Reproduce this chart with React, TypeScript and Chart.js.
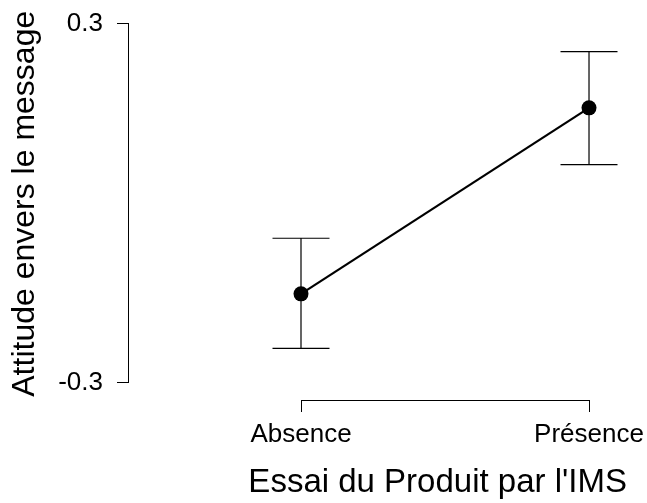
import React, { useEffect, useRef } from "react";
import { Chart, registerables } from "chart.js";

Chart.register(...registerables);

const categories = ["Absence", "Présence"];
const xPositions = [1, 2];
const means = [-0.152, 0.159];
const lowerBounds = [-0.243, 0.064];
const upperBounds = [-0.059, 0.253];
const yTickValues = [-0.3, 0.3];
const yTickLabels = ["-0.3", "0.3"];
const xTitle = "Essai du Produit par l'IMS";
const yTitle = "Attitude envers le message";

const FONT = "'Liberation Sans', Arial, Helvetica, sans-serif";

const errorBarPlugin = {
  id: "errorBarsAndAxes",
  beforeDatasetsDraw(chart: any) {
    const { ctx, scales } = chart;
    const x = scales.x;
    const y = scales.y;
    ctx.save();
    ctx.strokeStyle = "#000";
    ctx.lineWidth = 1.2;
    const half = 28.5;
    xPositions.forEach((xv, i) => {
      const px = x.getPixelForValue(xv);
      const lo = y.getPixelForValue(lowerBounds[i]);
      const hi = y.getPixelForValue(upperBounds[i]);
      ctx.beginPath();
      ctx.moveTo(px, lo);
      ctx.lineTo(px, hi);
      ctx.moveTo(px - half, lo);
      ctx.lineTo(px + half, lo);
      ctx.moveTo(px - half, hi);
      ctx.lineTo(px + half, hi);
      ctx.stroke();
    });
    ctx.lineWidth = 1;
    const ax = Math.round(chart.chartArea.left) - 0.5;
    const ay = Math.round(chart.chartArea.bottom) + 0.5;
    ctx.beginPath();
    ctx.moveTo(ax, Math.round(y.getPixelForValue(yTickValues[0])) + 0.5);
    ctx.lineTo(ax, Math.round(y.getPixelForValue(yTickValues[1])) + 0.5);
    ctx.moveTo(Math.round(x.getPixelForValue(xPositions[0])) + 0.5, ay);
    ctx.lineTo(Math.round(x.getPixelForValue(xPositions[1])) + 0.5, ay);
    ctx.stroke();
    ctx.restore();
  },
};

export default function App() {
  const ref = useRef<HTMLCanvasElement>(null);
  useEffect(() => {
    if (!ref.current) return;
    Chart.defaults.font.family = FONT;
    const chart = new Chart(ref.current, {
      type: "line",
      data: {
        datasets: [
          {
            data: xPositions.map((xv, i) => ({ x: xv, y: means[i] })),
            borderColor: "#000",
            borderWidth: 2.2,
            pointRadius: 7.5,
            pointBackgroundColor: "#000",
            pointBorderColor: "#000",
            pointBorderWidth: 0,
            clip: false as any,
          },
        ],
      },
      options: {
        animation: false,
        responsive: false,
        layout: { padding: { top: 7, right: 20, left: 0, bottom: 0 } },
        plugins: { legend: { display: false }, tooltip: { enabled: false } },
        scales: {
          x: {
            type: "linear",
            min: 0.4028,
            max: 2.1319,
            afterBuildTicks: (s: any) => {
              s.ticks = xPositions.map((v) => ({ value: v }));
            },
            ticks: {
              callback: (_v: any, i: number) => categories[i],
              font: { family: FONT, size: 26 },
              color: "#000",
              padding: 7,
              maxRotation: 0,
              autoSkip: false,
            },
            grid: { drawOnChartArea: false, drawTicks: true, tickLength: 12, color: "#000", lineWidth: 1 },
            border: { display: false },
            title: {
              display: true,
              text: xTitle,
              font: { family: FONT, size: 33 },
              color: "#000",
              align: "end",
              padding: { top: 0, bottom: 0 },
            },
            afterFit: (s: any) => {
              s.height = 103;
              s.paddingLeft = 0;
              s.paddingRight = 0;
            },
          },
          y: {
            type: "linear",
            min: -0.3294,
            max: 0.3267,
            afterBuildTicks: (s: any) => {
              s.ticks = yTickValues.map((v) => ({ value: v }));
            },
            ticks: {
              callback: (_v: any, i: number) => yTickLabels[i],
              font: { family: FONT, size: 26 },
              color: "#000",
              padding: 14,
            },
            grid: { drawOnChartArea: false, drawTicks: true, tickLength: 12, color: "#000", lineWidth: 1 },
            border: { display: false },
            title: {
              display: true,
              text: yTitle,
              font: { family: FONT, size: 32 },
              color: "#000",
              padding: { top: 6, bottom: 0 },
            },
            afterFit: (s: any) => {
              s.width = 129;
              s.paddingTop = 0;
              s.paddingBottom = 0;
            },
          },
        },
      },
      plugins: [errorBarPlugin],
    });
    return () => chart.destroy();
  }, []);
  return (
    <div style={{ position: "fixed", left: 0, top: 0, width: 647, height: 503, background: "#fff" }}>
      <canvas ref={ref} width={647} height={503} style={{ display: "block" }} />
    </div>
  );
}
